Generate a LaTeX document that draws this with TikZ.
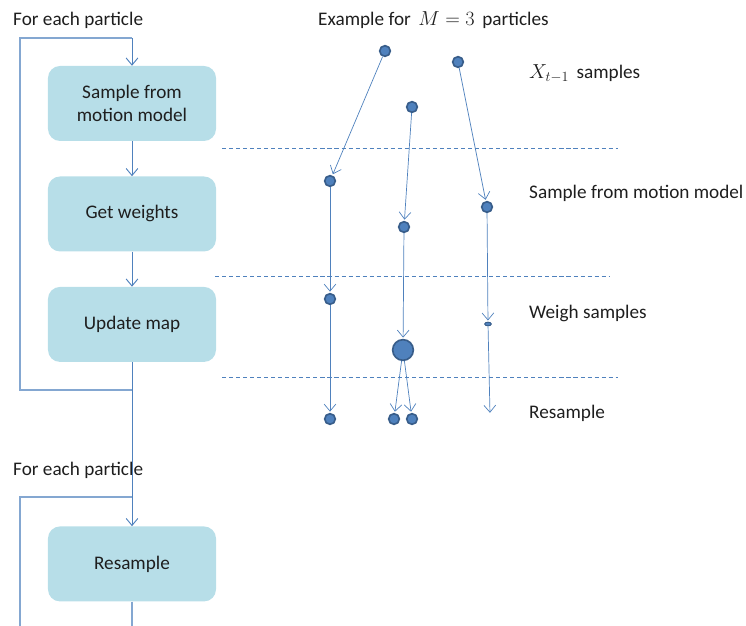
\documentclass[tikz,border=0pt]{standalone}
\usepackage{fontspec}
\setmainfont{Carlito}
\usepackage{tikz}
\usetikzlibrary{arrows.meta,positioning,shapes.geometric}

\definecolor{boxfill}{RGB}{183,222,232}
\definecolor{flowline}{RGB}{79,129,189}
\definecolor{dotedge}{RGB}{56,93,138}
\definecolor{inktext}{RGB}{30,30,30}

\begin{document}
\begin{tikzpicture}[
    x=0.03cm, y=-0.03cm,
    node distance=1.05cm,
    font=\fontsize{16.4}{19.5}\selectfont,
    text=inktext,
    stepbox/.style={
        rounded corners=0.36cm,
        align=center,
        minimum width=5.04cm,
        minimum height=2.25cm,
        fill=boxfill
    },
    label/.style={
        anchor=west,
        inner sep=0pt
    },
    flow/.style={
        draw=flowline,
        line width=0.8pt,
        -{Straight Barb[length=6pt,width=10pt]}
    },
    loopline/.style={
        draw=flowline!70,
        line width=1.3pt
    },
    sep/.style={
        draw=flowline,
        line width=0.7pt,
        dash pattern=on 3.5pt off 2.5pt
    },
    particle/.style={
        circle,
        draw=dotedge,
        fill=flowline,
        line width=1.4pt,
        inner sep=0pt,
        minimum size=0.32cm
    },
    bigparticle/.style={
        particle,
        minimum size=0.62cm
    },
    tinyparticle/.style={
        ellipse,
        draw=dotedge,
        fill=flowline,
        line width=0.8pt,
        inner sep=0pt,
        minimum width=0.2cm,
        minimum height=0.11cm
    },
    move/.style={
        draw=flowline,
        line width=0.6pt,
        -{Straight Barb[length=6pt,width=10pt]},
        shorten >=1pt
    }
]
\useasboundingbox (0,0) rectangle (746,626);

% left side: the loop over the particles
\node[label] (each1) at (13,20) {For each particle};
\node[stepbox] (smm) at (132,103.5) {Sample from\\motion model};
\node[stepbox, below=of smm] (gw) {Get weights};
\node[stepbox, below=of gw] (upd) {Update map};
\node[label] (each2) at (13,470) {For each particle};
\node[stepbox, below=4.92cm of upd] (res) {Resample};

\coordinate (l1a) at (132,390);
\coordinate (l1b) at (20,390);
\coordinate (l1c) at (20,38);
\coordinate (l1d) at (132,38);
\coordinate (l2a) at (20,626);
\coordinate (l2b) at (20,497);
\coordinate (l2c) at (132,497);
\coordinate (l2d) at (132,626);

\draw[loopline] (l1a) -- (l1b) -- (l1c) -- (l1d);
\draw[flow] (l1d) -- (smm.north);
\draw[flow] (smm.south) -- (gw.north);
\draw[flow] (gw.south) -- (upd.north);
\draw[flow] (upd.south) -- (res.north);
\draw[loopline] (l2a) -- (l2b) -- (l2c);
\draw[loopline] (res.south) -- (l2d);

% right side: example with three particles
\node[label] (title) at (318,20) {Example for \,$M=3$\, particles};
\node[label] (lx) at (529,74) {$X_{t-1}$\, samples};
\node[label] (lsmm) at (529,193) {Sample from motion model};
\node[label] (lw) at (529,313) {Weigh samples};
\node[label] (lr) at (529,413) {Resample};

\coordinate (s1a) at (222,148);
\coordinate (s1b) at (618,148);
\coordinate (s2a) at (215,276);
\coordinate (s2b) at (610,276);
\coordinate (s3a) at (222,377);
\coordinate (s3b) at (618,377);
\draw[sep] (s1a) -- (s1b);
\draw[sep] (s2a) -- (s2b);
\draw[sep] (s3a) -- (s3b);

\node[particle] (pa0) at (385,51) {};
\node[particle] (pb0) at (412,107) {};
\node[particle] (pc0) at (458,62) {};
\node[particle] (pa1) at (330,181) {};
\node[particle] (pb1) at (404,227) {};
\node[particle] (pc1) at (487,207) {};
\node[particle] (pa2) at (330,299) {};
\node[bigparticle] (pb2) at (403,350) {};
\node[tinyparticle] (pc2) at (488,324) {};
\node[particle] (pa3) at (330,419) {};
\node[particle] (pb3) at (394,419) {};
\node[particle] (pb4) at (412,419) {};
\coordinate (pc3) at (490,414);

\draw[move] (pa0) -- (pa1);
\draw[move] (pb0) -- (pb1);
\draw[move] (pc0) -- (pc1);
\draw[move] (pa1) -- (pa2);
\draw[move] (pb1) -- (pb2);
\draw[move] (pc1) -- (pc2);
\draw[move] (pa2) -- (pa3);
\draw[move] (pb2) -- (pb3);
\draw[move] (pb2) -- (pb4);
\draw[move] (pc2) -- (pc3);

\end{tikzpicture}
\end{document}
